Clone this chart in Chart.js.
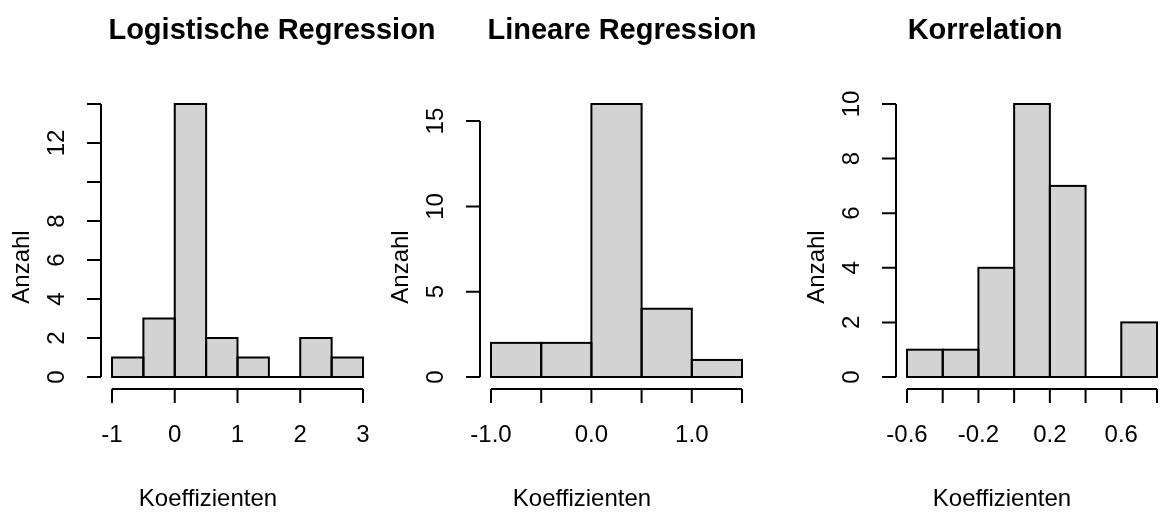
<!DOCTYPE html>
<html>
<head>
<meta charset="utf-8">
<script src="https://cdn.jsdelivr.net/npm/chart.js@4/dist/chart.umd.min.js"></script>
<style>
  html, body { margin: 0; padding: 0; background: #fff; }
  #wrap { position: relative; width: 1161px; height: 512px; overflow: hidden; }
  #wrap canvas { position: absolute; left: 0; top: 0; }
</style>
</head>
<body>
<div id="wrap">
  <canvas id="c1" width="1161" height="512"></canvas>
  <canvas id="c2" width="1161" height="512"></canvas>
  <canvas id="c3" width="1161" height="512"></canvas>
</div>
<script>
// Logistische Regression
const logEdges = [-1, -0.5, 0, 0.5, 1, 1.5, 2, 2.5, 3];
const logCounts = [1, 3, 14, 2, 1, 0, 2, 1];
const logXTicks = [-1, 0, 1, 2, 3];
const logXLabels = ['-1', '0', '1', '2', '3'];
const logYTicks = [0, 2, 4, 6, 8, 10, 12, 14];
const logYLabels = ['0', '2', '4', '6', '8', '', '12', ''];

// Lineare Regression
const linEdges = [-1, -0.5, 0, 0.5, 1, 1.5];
const linCounts = [2, 2, 16, 4, 1];
const linXTicks = [-1, -0.5, 0, 0.5, 1, 1.5];
const linXLabels = ['-1.0', '', '0.0', '', '1.0', ''];
const linYTicks = [0, 5, 10, 15];
const linYLabels = ['0', '5', '10', '15'];

// Korrelation
const korEdges = [-0.6, -0.4, -0.2, 0, 0.2, 0.4, 0.6, 0.8];
const korCounts = [1, 1, 4, 10, 7, 0, 2];
const korXTicks = [-0.6, -0.4, -0.2, 0, 0.2, 0.4, 0.6, 0.8];
const korXLabels = ['-0.6', '', '-0.2', '', '0.2', '', '0.6', ''];
const korYTicks = [0, 2, 4, 6, 8, 10];
const korYLabels = ['0', '2', '4', '6', '8', '10'];

const FONT = '"Liberation Sans", Arial, sans-serif';

// R-artige Achsen, Umrisse und Beschriftungen
function rStylePlugin(p) {
  return {
    id: 'rStyle',
    afterDatasetsDraw(chart) {
      const ctx = chart.ctx;
      const xs = chart.scales.x;
      const ys = chart.scales.y;
      const area = chart.chartArea;
      ctx.save();
      ctx.strokeStyle = '#000';
      ctx.lineWidth = 2;
      ctx.fillStyle = '#000';

      // Balkenumrisse (wie rect() in R)
      chart.getDatasetMeta(0).data.forEach(bar => {
        const left = bar.x - bar.width / 2;
        ctx.strokeRect(left, Math.min(bar.y, bar.base), bar.width, Math.abs(bar.base - bar.y));
      });

      // x-Achse
      const axY = area.bottom + 12;
      const x0 = xs.getPixelForValue(p.xTicks[0]);
      const x1 = xs.getPixelForValue(p.xTicks[p.xTicks.length - 1]);
      ctx.beginPath();
      ctx.moveTo(x0, axY);
      ctx.lineTo(x1, axY);
      p.xTicks.forEach(t => {
        const px = xs.getPixelForValue(t);
        ctx.moveTo(px, axY);
        ctx.lineTo(px, axY + 14);
      });
      ctx.stroke();
      ctx.font = '24px ' + FONT;
      ctx.textAlign = 'center';
      ctx.textBaseline = 'middle';
      p.xTicks.forEach((t, i) => {
        if (p.xLabels[i]) ctx.fillText(p.xLabels[i], xs.getPixelForValue(t), area.bottom + 58);
      });

      // y-Achse
      const axX = area.left - 11;
      const y0 = ys.getPixelForValue(p.yTicks[0]);
      const y1 = ys.getPixelForValue(p.yTicks[p.yTicks.length - 1]);
      ctx.beginPath();
      ctx.moveTo(axX, y0);
      ctx.lineTo(axX, y1);
      p.yTicks.forEach(t => {
        const py = ys.getPixelForValue(t);
        ctx.moveTo(axX, py);
        ctx.lineTo(axX - 14, py);
      });
      ctx.stroke();
      p.yTicks.forEach((t, i) => {
        if (!p.yLabels[i]) return;
        ctx.save();
        ctx.translate(axX - 44, ys.getPixelForValue(t));
        ctx.rotate(-Math.PI / 2);
        ctx.fillText(p.yLabels[i], 0, 0);
        ctx.restore();
      });

      // Achsentitel
      ctx.save();
      ctx.translate(axX - 79, 267);
      ctx.rotate(-Math.PI / 2);
      ctx.fillText('Anzahl', 0, 0);
      ctx.restore();
      ctx.fillText('Koeffizienten', p.xTitleX, 499);

      // Haupttitel
      ctx.font = 'bold 29px ' + FONT;
      ctx.fillText(p.title, p.titleX, 31);
      ctx.restore();
    }
  };
}

function makeHist(id, edges, counts, yMax, pad, p) {
  const points = counts.map((c, i) => ({ x: (edges[i] + edges[i + 1]) / 2, y: c }));
  const step = edges[1] - edges[0];
  new Chart(document.getElementById(id), {
    type: 'bar',
    data: {
      datasets: [{
        data: points,
        backgroundColor: '#d3d3d3',
        borderWidth: 0,
        barPercentage: 1,
        categoryPercentage: 1
      }]
    },
    options: {
      responsive: false,
      animation: false,
      layout: { padding: pad },
      plugins: { legend: { display: false }, tooltip: { enabled: false } },
      scales: {
        x: {
          type: 'linear',
          display: false,
          min: edges[0],
          max: edges[edges.length - 1],
          offset: false,
          ticks: { stepSize: step }
        },
        y: { display: false, min: 0, max: yMax }
      }
    },
    plugins: [rStylePlugin(p)]
  });
}

makeHist('c1', logEdges, logCounts, 14, { left: 112, right: 1161 - 363, top: 104, bottom: 135 }, {
  title: 'Logistische Regression', titleX: 272, xTitleX: 208,
  xTicks: logXTicks, xLabels: logXLabels, yTicks: logYTicks, yLabels: logYLabels
});
makeHist('c2', linEdges, linCounts, 16, { left: 491, right: 1161 - 742, top: 104, bottom: 135 }, {
  title: 'Lineare Regression', titleX: 622, xTitleX: 582,
  xTicks: linXTicks, xLabels: linXLabels, yTicks: linYTicks, yLabels: linYLabels
});
makeHist('c3', korEdges, korCounts, 10, { left: 907, right: 1161 - 1157, top: 104, bottom: 135 }, {
  title: 'Korrelation', titleX: 985, xTitleX: 1002,
  xTicks: korXTicks, xLabels: korXLabels, yTicks: korYTicks, yLabels: korYLabels
});
</script>
</body>
</html>
